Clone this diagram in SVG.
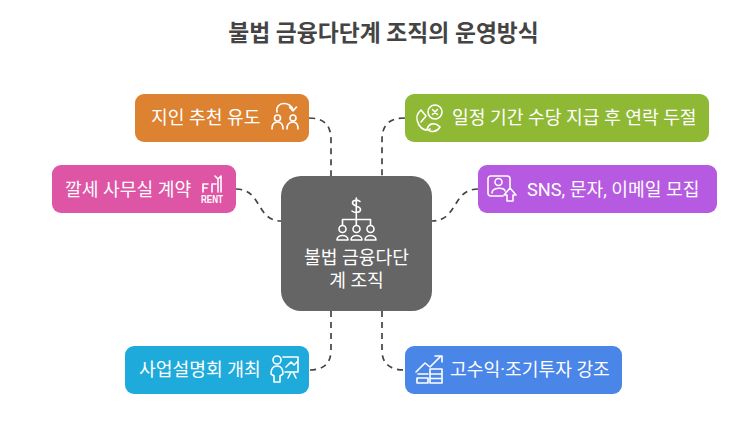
<svg xmlns="http://www.w3.org/2000/svg" width="742" height="422" viewBox="0 0 742 422">
<style>
text{font-family:Roboto,"Noto Sans CJK KR","Noto Sans",sans-serif;fill:#fff;font-size:18.200px}
.t{fill:#444;font-size:22.800px;font-weight:700}
.c{fill:none;stroke:#444;stroke-width:1.700;stroke-dasharray:6 5}
.i{fill:none;stroke:#fff;stroke-width:1.600;stroke-linecap:round;stroke-linejoin:round}
</style>
<rect width="742" height="422" fill="#fff"/>
<text class="t" x="383.500" y="41" text-anchor="middle">불법 금융다단계 조직의 운영방식</text>
<g id="connectors">
<path class="c" d="M309 118C323 118 331 124 331 140V176"/>
<path class="c" d="M236 189C262 189 256 221 281 221"/>
<path class="c" d="M405 118C390 118 382 124 382 140V176"/>
<path class="c" d="M478 189C452 189 458 221 432 221"/>
<path class="c" d="M331 311V350C331 364 323 370 309 370"/>
<path class="c" d="M382 311V350C382 364 390 370 405 370"/>
</g>
<g id="center"><rect x="281" y="176" width="151" height="135" rx="20" fill="#656565"/>
<g class="i"><path d="M360 201.500C358 199.500 352.500 199.500 352.500 203C352.500 206.500 360.500 205.500 360.500 209.500C360.500 213 354.500 213 352 211M356.300 198V219M342.500 225V219.500H370.500V225M356.300 219V225"/>
<circle cx="342.500" cy="229" r="3.500"/><circle cx="356.500" cy="229" r="3.500"/><circle cx="370.500" cy="229" r="3.500"/>
<path d="M337 240C337 234 348 234 348 240ZM351 240C351 234 362 234 362 240ZM365 240C365 234 376 234 376 240Z"/></g>
<text x="356.500" y="264" text-anchor="middle">불법 금융다단</text><text x="356.500" y="287" text-anchor="middle">계 조직</text></g>
<g id="n1"><rect x="135" y="94" width="174" height="48" rx="9" fill="#dd8230"/><text x="151" y="124">지인 추천 유도</text>
<g class="i"><path d="M277 112C275 101 291 101 293 110M289.500 107L293 111L296.500 107"/><circle cx="277.500" cy="118" r="3"/><circle cx="293" cy="118" r="3"/><path d="M272 129C272 124 274 122 277.500 122C281 122 283 124 283 129M287 129C287 124 289.500 122 293 122C296.500 122 298 124 298 129"/></g></g>
<g id="n2"><rect x="52" y="165" width="184" height="48" rx="9" fill="#de55a6"/><text x="65" y="196">깔세 사무실 계약</text>
<g class="i"><path d="M203 192V184H208M203 188H207M212 192V184H216M218 192V179L215 176M218 179L221 176V192"/></g><text x="201" y="203" style="font-size:10px;font-weight:700;font-family:'Liberation Sans',sans-serif" textLength="22" lengthAdjust="spacingAndGlyphs">RENT</text></g>
<g id="n3"><rect x="125" y="346" width="184" height="48" rx="9" fill="#1eabdb"/><text x="139" y="376">사업설명회 개최</text>
<g class="i"><circle cx="277" cy="360" r="4"/><path d="M274 382V376L271 374C271 369 273 366 277 366C281 366 283 369 283 374L280 376V382ZM283 357H298V372H285M286 367L291 362L294 365L298 361M291 372L288 378M293 372L296 378"/></g></g>
<g id="n4"><rect x="405" y="94" width="304" height="48" rx="9" fill="#8fb935"/><text x="452" y="124">일정 기간 수당 지급 후 연락 두절</text>
<g class="i"><circle cx="435" cy="112" r="7"/><path d="M432.500 109.500L437.500 114.500M437.500 109.500L432.500 114.500M421 110C416 114 416 120 419 125C422 130 427 131 430 129M421 110L426 116L421 122M427 129C429 123 435 122 440 127C437 132 431 133 427 129Z"/></g></g>
<g id="n5"><rect x="478" y="165" width="239" height="48" rx="9" fill="#b75ae2"/><text x="527" y="196">SNS, 문자, 이메일 모집</text>
<g class="i"><path d="M503 196H491C489 196 488 195 488 193V179C488 177 489 176 491 176H507C509 176 510 177 510 179V189"/><circle cx="498.500" cy="182" r="3.500"/><path d="M492 193C492 187 505 187 505 191M507 201V195H504L510 188L516 195H513V201Z"/></g></g>
<g id="n6"><rect x="405" y="346" width="217" height="48" rx="9" fill="#4a86e8"/><text x="450" y="376">고수익·조기투자 강조</text>
<g class="i"><path d="M416 372L425 363L430 367L441 356M435 356H442V362M417 378H428V383H417ZM418 374H428M430 369H442V374H430ZM430 374H442V378.500H430ZM430 378.500H442V383H430Z"/></g></g>
</svg>
